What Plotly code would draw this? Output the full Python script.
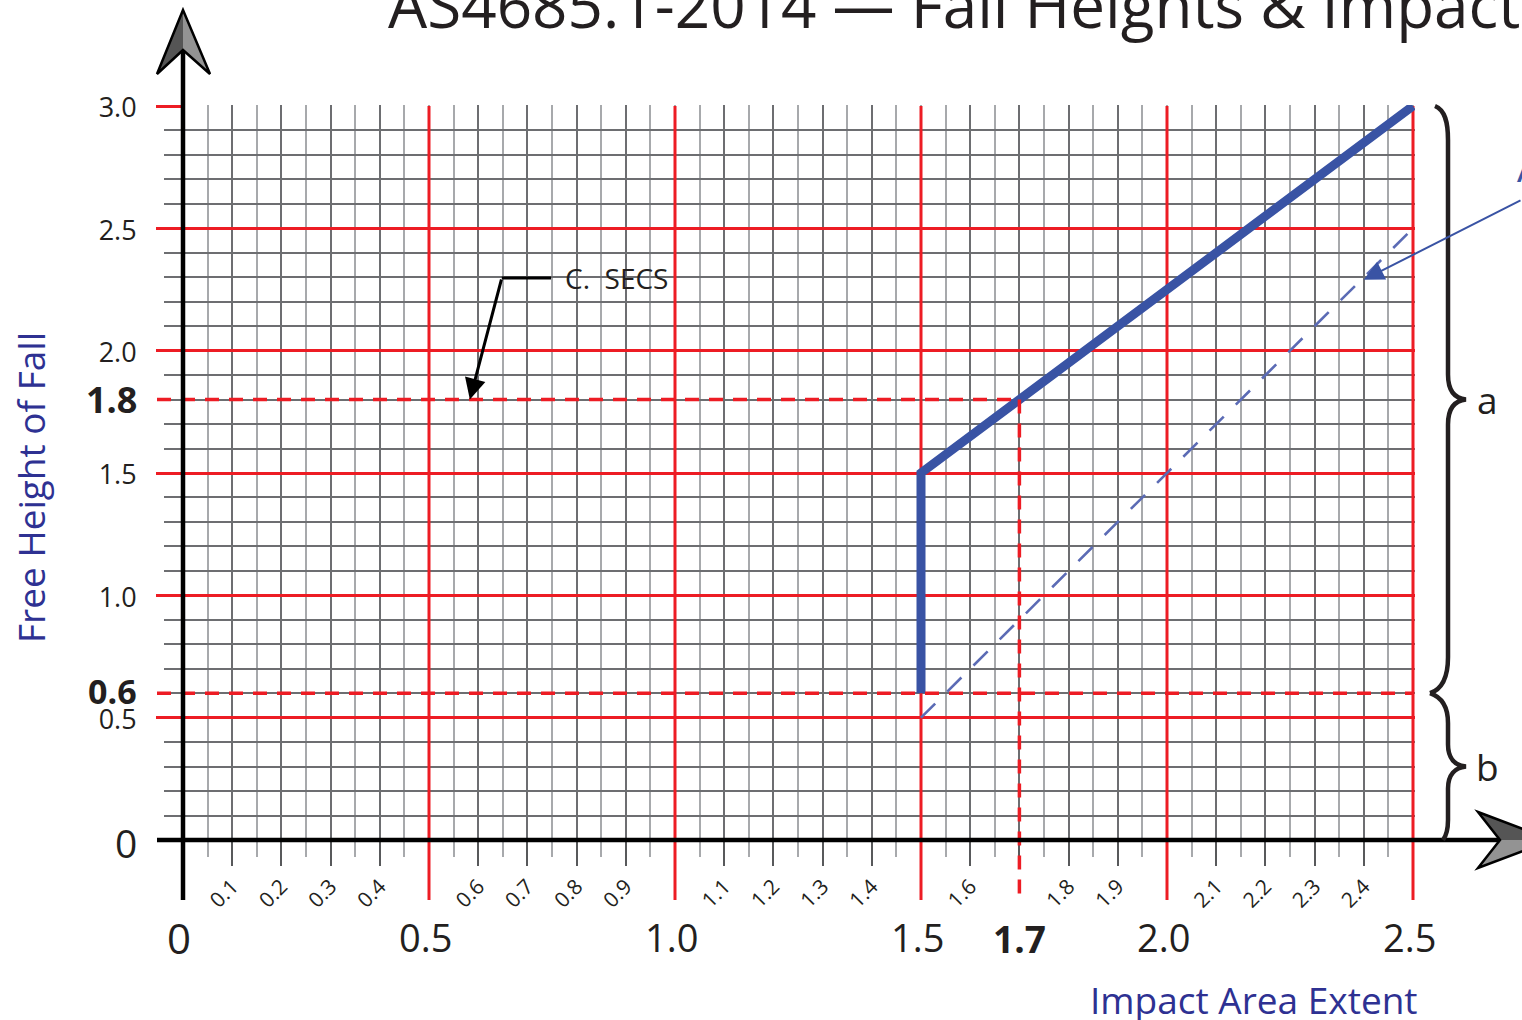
import plotly.graph_objects as go

# ---------------- data ----------------
impact_x = [1.5, 1.5, 2.5]          # thick blue curve: impact area extent
fall_h = [0.6, 1.5, 3.0]            # free height of fall
lower_x = [1.5, 2.5]                # thin dashed blue line
lower_h = [0.5, 2.5]

x_small_vals = [0.1, 0.2, 0.3, 0.4, 0.6, 0.7, 0.8, 0.9, 1.1, 1.2, 1.3, 1.4,
                1.6, 1.7, 1.8, 1.9, 2.1, 2.2, 2.3, 2.4]
x_small_text = ["0.1", "0.2", "0.3", "0.4", "0.6", "0.7", "0.8", "0.9", "1.1", "1.2", "1.3", "1.4",
                "1.6", "", "1.8", "1.9", "2.1", "2.2", "2.3", "2.4"]
x_major_vals = [0.0, 0.5, 1.0, 1.5, 2.0, 2.5]
x_major_text = ["0", "0.5", "1.0", "1.5", "2.0", "2.5"]
y_major_vals = [0.5, 1.0, 1.5, 2.0, 2.5, 3.0]
y_major_text = ["0.5", "1.0", "1.5", "2.0", "2.5", "3.0"]

ref_x = 1.7        # 1.7 reference extent
ref_h_hi = 1.8     # 1.8 reference height
ref_h_lo = 0.6     # 0.6 reference height
brace_a = (0.6, 3.0)
brace_b = (0.0, 0.6)

# ---------------- layout geometry ----------------
FW, FH = 1522, 1020
L, T, W, H = 183, 105, 1232, 735   # plot area in page pixels
SX = 492.0            # px per metre (x)
SY = 734.0 / 3.0      # px per metre (y)
XMAX = W / SX
YMAX = H / SY
BOT = T + H

RED = "#ed1c24"
BLUE = "#3953a4"
NAVY = "#2e3192"
INK = "#231f20"
DARK = "#6d6e71"
LIGHT = "#a7a9ac"
FONT = "Open Sans"


def fx(px):
    return (px - L) / W


def fy(py):
    return (BOT - py) / H


def vx(v):
    return L + v * SX


def vy(v):
    return BOT - v * SY


def P(px, py):
    return f"{fx(px):.5f},{fy(py):.5f}"


fig = go.Figure()

# red major vertical grid lines (as a trace so they sit above the grey grid, below the blue)
red_x, red_y = [], []
for v in x_major_vals[1:]:
    red_x += [v, v, None]
    red_y += [0, 3.0, None]
fig.add_trace(go.Scatter(x=red_x, y=red_y, mode="lines",
                         line=dict(color=RED, width=3), hoverinfo="skip"))

# thin dashed blue line
fig.add_trace(go.Scatter(x=lower_x, y=lower_h, mode="lines",
                         line=dict(color="#5b6bb5", width=2.6, dash="20px,17px"),
                         hoverinfo="skip"))
# thick blue line
fig.add_trace(go.Scatter(x=impact_x, y=fall_h, mode="lines",
                         line=dict(color=BLUE, width=9),
                         hoverinfo="skip"))

shapes = []

# red major tick extensions below the axis
for v in x_major_vals[1:]:
    shapes.append(dict(type="line", xref="x", yref="paper", x0=v, x1=v,
                       y0=fy(900), y1=0, layer="above",
                       line=dict(color=RED, width=3)))

# red dashed reference lines
shapes.append(dict(type="line", xref="paper", yref="y", x0=fx(157), x1=ref_x / XMAX,
                   y0=ref_h_hi, y1=ref_h_hi, layer="above",
                   line=dict(color=RED, width=3.5, dash="14px,10px")))
shapes.append(dict(type="line", xref="paper", yref="y", x0=fx(157), x1=2.5 / XMAX,
                   y0=ref_h_lo, y1=ref_h_lo, layer="above",
                   line=dict(color=RED, width=3.5, dash="14px,10px")))
shapes.append(dict(type="line", xref="x", yref="paper", x0=ref_x, x1=ref_x,
                   y0=ref_h_hi / YMAX, y1=fy(900), layer="above",
                   line=dict(color=RED, width=3.5, dash="14px,10px")))

# black axes
shapes.append(dict(type="line", xref="paper", yref="paper", x0=fx(L), x1=fx(L),
                   y0=fy(900), y1=fy(50), line=dict(color="black", width=4.5)))
shapes.append(dict(type="line", xref="paper", yref="paper", x0=fx(157), x1=fx(1500),
                   y0=fy(BOT), y1=fy(BOT), line=dict(color="black", width=4.5)))

# y arrow head
shapes.append(dict(type="path", xref="paper", yref="paper",
                   path=f"M{P(L,10)} L{P(157,74)} L{P(L,50)} Z",
                   fillcolor="#555555", line=dict(width=0)))
shapes.append(dict(type="path", xref="paper", yref="paper",
                   path=f"M{P(L,10)} L{P(L,50)} L{P(210,74)} Z",
                   fillcolor="#939393", line=dict(width=0)))
shapes.append(dict(type="path", xref="paper", yref="paper",
                   path=f"M{P(L,10)} L{P(157,74)} L{P(L,50)} L{P(210,74)} Z",
                   fillcolor="rgba(0,0,0,0)", line=dict(color="black", width=2.5)))
# x arrow head
shapes.append(dict(type="path", xref="paper", yref="paper",
                   path=f"M{P(1478,812)} L{P(1552,BOT)} L{P(1500,BOT)} Z",
                   fillcolor="#555555", line=dict(width=0)))
shapes.append(dict(type="path", xref="paper", yref="paper",
                   path=f"M{P(1500,BOT)} L{P(1552,BOT)} L{P(1478,868)} Z",
                   fillcolor="#939393", line=dict(width=0)))
shapes.append(dict(type="path", xref="paper", yref="paper",
                   path=f"M{P(1478,812)} L{P(1552,BOT)} L{P(1478,868)} L{P(1500,BOT)} Z",
                   fillcolor="rgba(0,0,0,0)", line=dict(color="black", width=2.5)))

# braces
a_top, a_bot = vy(brace_a[1]), vy(brace_a[0])
a_mid = (a_top + a_bot) / 2
brace_a_path = (f"M{P(1435,a_top)} C{P(1445,a_top+4)} {P(1448,a_top+16)} {P(1448,a_top+34)} "
                f"L{P(1448,a_mid-25)} C{P(1448,a_mid-8)} {P(1455,a_mid-1)} {P(1466,a_mid)} "
                f"C{P(1455,a_mid+1)} {P(1448,a_mid+8)} {P(1448,a_mid+25)} "
                f"L{P(1448,a_bot-36)} C{P(1448,a_bot-16)} {P(1442,a_bot-4)} {P(1430,a_bot)}")
b_top, b_bot = vy(brace_b[1]), vy(brace_b[0])
b_mid = (b_top + b_bot) / 2
brace_b_path = (f"M{P(1430,b_top)} C{P(1442,b_top+4)} {P(1448,b_top+13)} {P(1448,b_top+30)} "
                f"L{P(1448,b_mid-22)} C{P(1448,b_mid-8)} {P(1455,b_mid-1)} {P(1466,b_mid)} "
                f"C{P(1455,b_mid+1)} {P(1448,b_mid+8)} {P(1448,b_mid+22)} "
                f"L{P(1448,b_bot-20)} C{P(1448,b_bot-10)} {P(1446,b_bot-4)} {P(1443,b_bot)}")
for pth in (brace_a_path, brace_b_path):
    shapes.append(dict(type="path", xref="paper", yref="paper", path=pth,
                       fillcolor="rgba(0,0,0,0)", line=dict(color=INK, width=4.5)))

# C. SECS leader horizontal
secs_elbow = (0.648, 2.297)
secs_tip = (0.583, ref_h_hi)
shapes.append(dict(type="line", xref="x", yref="y", x0=secs_elbow[0], x1=0.748,
                   y0=secs_elbow[1], y1=secs_elbow[1], line=dict(color="black", width=3)))

annotations = []

# big x labels
for v, t in zip(x_major_vals, x_major_text):
    annotations.append(dict(xref="x", yref="paper", x=v, y=fy(937), text=t, showarrow=False,
                            xanchor="center", yanchor="middle", xshift=-4,
                            font=dict(family=FONT, size=42 if t == "0" else 38, color=INK)))
annotations.append(dict(xref="x", yref="paper", x=ref_x, y=fy(938), text="<b>1.7</b>",
                        showarrow=False, xanchor="center", yanchor="middle",
                        font=dict(family=FONT, size=37, color=INK)))
# y extra labels
annotations.append(dict(xref="paper", yref="y", x=fx(139), y=0, text="0", showarrow=False,
                        xanchor="right", yanchor="middle", yshift=-2,
                        font=dict(family=FONT, size=39, color=INK)))
annotations.append(dict(xref="paper", yref="y", x=fx(139), y=ref_h_hi, text=f"<b>{ref_h_hi:.1f}</b>",
                        showarrow=False, xanchor="right", yanchor="middle",
                        font=dict(family=FONT, size=36, color=INK)))
annotations.append(dict(xref="paper", yref="y", x=fx(139), y=ref_h_lo, text=f"<b>{ref_h_lo:.1f}</b>",
                        showarrow=False, xanchor="right", yanchor="middle", yshift=2,
                        font=dict(family=FONT, size=34, color=INK)))

# axis titles
annotations.append(dict(xref="paper", yref="paper", x=fx(31), y=fy(488),
                        text="Free Height of Fall", textangle=-90, showarrow=False,
                        xanchor="center", yanchor="middle",
                        font=dict(family=FONT, size=37, color=NAVY)))
annotations.append(dict(xref="paper", yref="paper", x=fx(1420), y=fy(999),
                        text="Impact Area Extent", showarrow=False,
                        xanchor="right", yanchor="middle",
                        font=dict(family=FONT, size=37, color=NAVY)))
# title (cut off at top/right as in reference)
annotations.append(dict(xref="paper", yref="paper", x=fx(386), y=fy(4),
                        text="AS4685.1-2014 — Fall Heights & Impact Area", showarrow=False,
                        xanchor="left", yanchor="middle",
                        font=dict(family=FONT, size=62, color=INK)))
# brace labels
annotations.append(dict(xref="paper", yref="y", x=fx(1487), y=(brace_a[0] + brace_a[1]) / 2,
                        text="a", showarrow=False, xanchor="center", yanchor="middle",
                        font=dict(family=FONT, size=37, color=INK)))
annotations.append(dict(xref="paper", yref="y", x=fx(1487), y=(brace_b[0] + brace_b[1]) / 2,
                        text="b", showarrow=False, xanchor="center", yanchor="middle",
                        font=dict(family=FONT, size=37, color=INK)))
# C. SECS
annotations.append(dict(xref="x", yref="y", x=0.772, y=secs_elbow[1], text="C.  SECS",
                        showarrow=False, xanchor="left", yanchor="middle",
                        font=dict(family=FONT, size=28, color=INK)))
annotations.append(dict(xref="x", yref="y", x=secs_tip[0], y=secs_tip[1], text="",
                        showarrow=True, axref="x", ayref="y",
                        ax=secs_elbow[0], ay=secs_elbow[1],
                        arrowhead=2, arrowsize=1.4, arrowwidth=3, arrowcolor="black", standoff=0))
# blue pointer to dashed line
annotations.append(dict(xref="x", yref="y", x=2.4, y=2.29, text="",
                        showarrow=True, ax=185, ay=-80,
                        arrowhead=2, arrowsize=2.0, arrowwidth=2, arrowcolor=BLUE, standoff=0))
annotations.append(dict(xref="paper", yref="paper", x=fx(1515), y=fy(166), text="A",
                        showarrow=False, xanchor="left", yanchor="middle",
                        font=dict(family=FONT, size=42, color=BLUE)))

fig.update_layout(
    width=FW, height=FH,
    margin=dict(l=L, r=FW - L - W, t=T, b=FH - T - H),
    plot_bgcolor="white", paper_bgcolor="white",
    showlegend=False,
    shapes=shapes, annotations=annotations,
    xaxis=dict(range=[0, XMAX], tickmode="array", tickvals=x_small_vals, ticktext=x_small_text,
               tickangle=-45, ticks="outside", ticklen=25, tickwidth=1.5, tickcolor="#58595b",
               showgrid=True, gridcolor=DARK, gridwidth=1.5, zeroline=False, showline=False,
               tickfont=dict(family=FONT, size=21, color=INK),
               minor=dict(dtick=0.05, tick0=0, ticks="outside", ticklen=16, tickwidth=1.5,
                          tickcolor=LIGHT, showgrid=True, gridcolor=LIGHT, gridwidth=1.5),
               fixedrange=True),
    yaxis=dict(range=[0, YMAX], tickmode="array", tickvals=y_major_vals, ticktext=y_major_text,
               ticks="outside", ticklen=26, tickwidth=3, tickcolor=RED,
               showgrid=True, gridcolor=RED, gridwidth=3, zeroline=False, showline=False,
               ticklabelstandoff=14, ticklabelshift=2,
               tickfont=dict(family=FONT, size=27, color=INK),
               minor=dict(dtick=0.1, tick0=0, ticks="outside", ticklen=18, tickwidth=1.5,
                          tickcolor=DARK, showgrid=True, gridcolor=DARK, gridwidth=1.5),
               fixedrange=True),
)

fig.write_html("out.html",
               config={"displayModeBar": False},
               post_script="document.body.style.margin='0';"
                           "document.documentElement.style.overflow='hidden';"
                           "document.body.style.overflow='hidden';")
